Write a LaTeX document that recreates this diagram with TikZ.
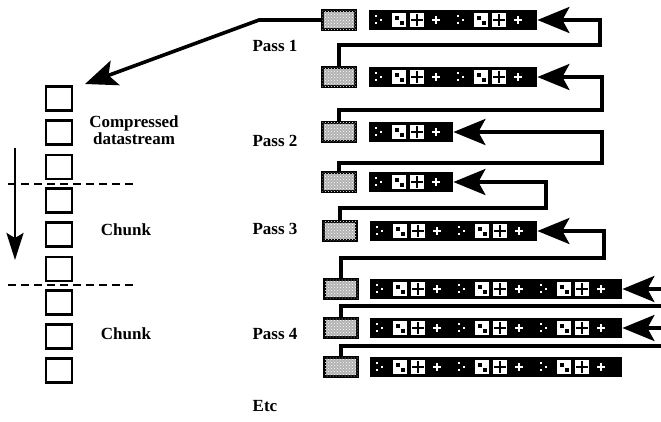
\documentclass[tikz,border=0pt]{standalone}
\usepackage{fontspec}
\setmainfont{Liberation Serif}
\usetikzlibrary{arrows.meta,patterns}

% white marks inside one dark bar, one group per call
\newcommand{\glyphrun}[2]{%
  \fill[white] ({#1+6},{#2-5}) rectangle ({#1+8},{#2-3});
  \fill[white] ({#1+6},{#2+2}) rectangle ({#1+8},{#2+4});
  \fill[white] ({#1+11},{#2-1}) rectangle ({#1+13},{#2+1});
  \fill[white] ({#1+23},{#2-7}) rectangle ({#1+37},{#2+7});
  \fill[black] ({#1+26},{#2-4}) rectangle ({#1+30},{#2});
  \fill[black] ({#1+31},{#2+1}) rectangle ({#1+35},{#2+5});
  \fill[white] ({#1+41},{#2-7}) rectangle ({#1+55},{#2+7});
  \draw[black, line width=1.2pt] ({#1+48},{#2-6}) -- ({#1+48},{#2+6}) ({#1+42},{#2}) -- ({#1+54},{#2});
  \draw[white, line width=1.2pt] ({#1+63},{#2}) -- ({#1+71},{#2}) ({#1+67},{#2-4}) -- ({#1+67},{#2+4});
}

\begin{document}
\begin{tikzpicture}[x=1pt, y=-1pt,
    graybox/.style={draw, line width=2.6pt, fill=black!30, minimum width=33pt, minimum height=19pt, inner sep=0pt,
      postaction={pattern=crosshatch dots, pattern color=white}},
    databar/.style={fill=black, minimum height=20pt, inner sep=0pt, anchor=west},
    slot/.style={draw, line width=2.2pt, minimum width=26pt, minimum height=24pt, inner sep=0pt},
    backline/.style={line width=3.6pt, -{Stealth[length=32pt, width=26pt, inset=7pt]}},
    passtext/.style={font=\fontsize{17}{17}\selectfont\bfseries}]
        \clip (0, 0) rectangle (661, 421);

        % Compressed datastream
        \node at (59, 98.5) (S1) [slot] {};
        \node at (59, 132.5) (S2) [slot] {};
        \node at (59, 167) (S3) [slot] {};
        \node at (59, 200.5) (S4) [slot] {};
        \node at (59, 234.5) (S5) [slot] {};
        \node at (59, 269) (S6) [slot] {};
        \node at (59, 302.5) (S7) [slot] {};
        \node at (59, 336.5) (S8) [slot] {};
        \node at (59, 370.5) (S9) [slot] {};
        \draw[line width=1.6pt, dash pattern=on 8pt off 5pt] (8, 184) -- (136, 184);
        \draw[line width=1.6pt, dash pattern=on 8pt off 5pt] (8, 285) -- (136, 285);
        \draw[line width=2.8pt, -{Stealth[length=27pt, width=17pt, inset=5pt]}] (15, 148) -- (15, 260);
        \node at (134, 130) (CD) [passtext, align=center, font=\fontsize{17}{15}\selectfont\bfseries] {Compressed\\datastream};
        \node at (126, 230) (C1) [passtext] {Chunk};
        \node at (126, 334) (C2) [passtext] {Chunk};

        % Pass labels
        \node at (249, 46) (P1) [passtext, anchor=west] {Pass 1};
        \node at (249, 141) (P2) [passtext, anchor=west] {Pass 2};
        \node at (249, 229) (P3) [passtext, anchor=west] {Pass 3};
        \node at (249, 334) (P4) [passtext, anchor=west] {Pass 4};
        \node at (265, 406) (ETC) [passtext] {Etc};

        % Rows of each pass
        \node at (339, 20) (G1) [graybox] {};
        \node at (369, 20) (B1) [databar, minimum width=168] {};
        \node at (339, 77) (G2) [graybox] {};
        \node at (369, 77) (B2) [databar, minimum width=168] {};
        \node at (339, 132) (G3) [graybox] {};
        \node at (369, 132) (B3) [databar, minimum width=84] {};
        \node at (339, 182) (G4) [graybox] {};
        \node at (369, 182) (B4) [databar, minimum width=84] {};
        \node at (340, 231) (G5) [graybox] {};
        \node at (370, 231) (B5) [databar, minimum width=167] {};
        \node at (341, 289) (G6) [graybox] {};
        \node at (370, 289) (B6) [databar, minimum width=252] {};
        \node at (341, 328) (G7) [graybox] {};
        \node at (370, 328) (B7) [databar, minimum width=252] {};
        \node at (341, 367) (G8) [graybox] {};
        \node at (370, 367) (B8) [databar, minimum width=252] {};

        % Marks in the bars
        \glyphrun{369}{20} \glyphrun{451}{20}
        \glyphrun{369}{77} \glyphrun{451}{77}
        \glyphrun{369}{132}
        \glyphrun{369}{182}
        \glyphrun{370}{231} \glyphrun{452}{231}
        \glyphrun{370}{289} \glyphrun{452}{289} \glyphrun{534}{289}
        \glyphrun{370}{328} \glyphrun{452}{328} \glyphrun{534}{328}
        \glyphrun{370}{367} \glyphrun{452}{367} \glyphrun{534}{367}

        % Turning points
        \coordinate (K0) at (259, 20);
        \coordinate (IN) at (85, 84);
        \coordinate (K1) at (600, 45);
        \coordinate (K2) at (602, 110);
        \coordinate (K3) at (602, 163);
        \coordinate (K4) at (546, 208);
        \coordinate (K5) at (604, 258);
        \coordinate (K6) at (690, 306);
        \coordinate (K7) at (690, 346);

        % Edges
        \draw[backline] (G1.west) -- (K0) -- (IN);
        \draw[backline] (G2.north) |- (K1) |- (B1.east);
        \draw[backline] (G3.north) |- (K2) |- (B2.east);
        \draw[backline] (G4.north) |- (K3) |- (B3.east);
        \draw[backline] (G5.north) |- (K4) |- (B4.east);
        \draw[backline] (G6.north) |- (K5) |- (B5.east);
        \draw[backline] (G7.north) |- (K6) |- (B6.east);
        \draw[backline] (G8.north) |- (K7) |- (B7.east);
    \end{tikzpicture}
\end{document}
